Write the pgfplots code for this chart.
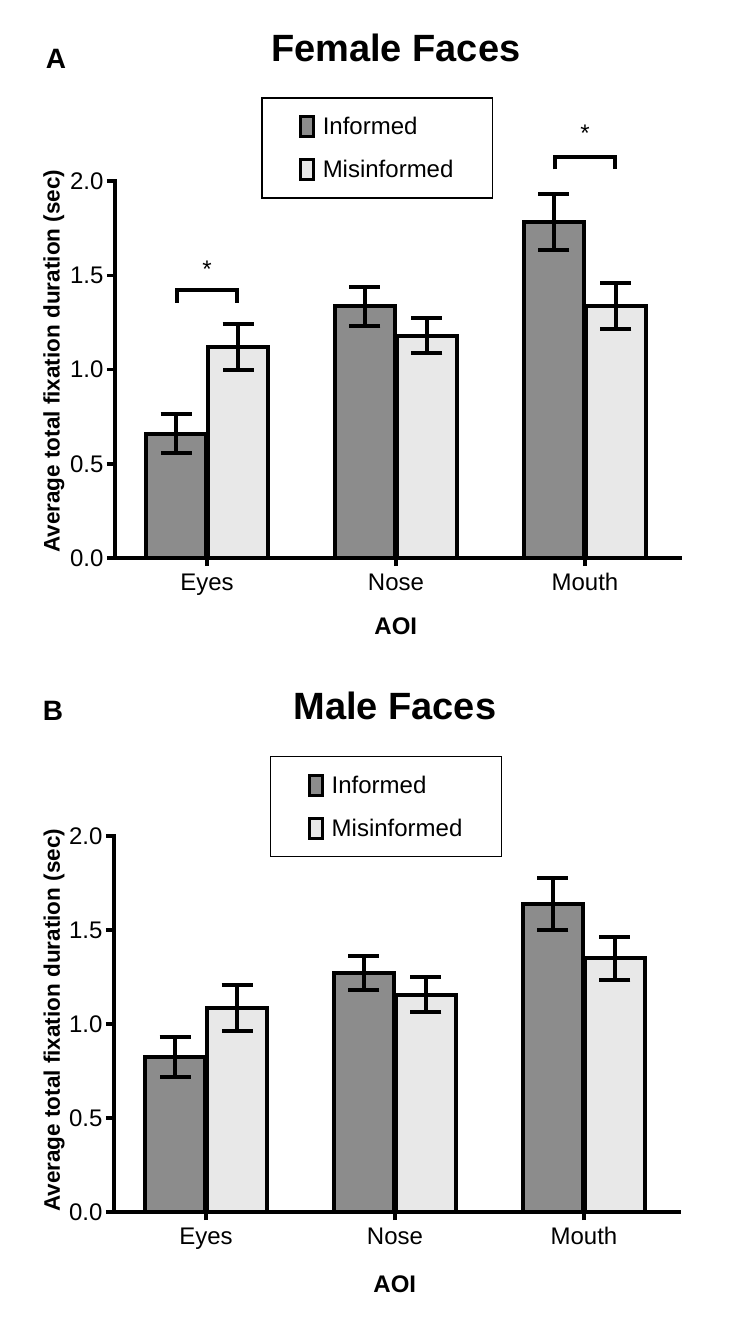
\documentclass[border=0pt]{standalone}
\usepackage{pgfplots}
\pgfplotsset{compat=1.18}
\usepackage{fontspec}
\setmainfont{Liberation Sans}
\definecolor{infcol}{gray}{0.55}
\definecolor{miscol}{gray}{0.91}
\pgfplotsset{
  prism/.style={
    scale only axis, width=565pt,
    ybar, bar width=60pt,
    xmin=-0.487, xmax=2.503, ymin=0, ymax=2,
    enlargelimits=false, clip=false,
    axis x line*=bottom, axis y line*=left,
    axis line style={line width=3.5pt, -, line cap=rect},
    tick style={line width=3.5pt, black},
    major tick length=8pt, tick align=outside,
    xtick={0,1,2}, xticklabels={Eyes,Nose,Mouth},
    ytick={0,0.5,1,1.5,2},
    /pgf/number format/assume math mode=true,
    y tick label style={/pgf/number format/fixed, /pgf/number format/fixed zerofill, /pgf/number format/precision=1},
    x tick label style={yshift=-4pt},
    tick label style={font=\fontsize{24}{28}\selectfont},
    every axis plot post/.append style={legend image code/.code={\draw[#1, line width=3pt, draw=black] (0pt,-10pt) rectangle (13pt,10pt);}},
    legend cell align=left,
    legend style={anchor=north west, draw=black, line width=1.5pt, fill=white,
      font=\fontsize{24}{28}\selectfont, inner xsep=37pt, inner ysep=17pt, row sep=20pt,
      /tikz/every odd column/.append style={column sep=6pt},
      nodes={inner xsep=2pt, inner ysep=0pt}},
    title style={anchor=base, font=\bfseries\fontsize{38}{44}\selectfont},
    xlabel style={anchor=center, font=\bfseries\fontsize{24}{28}\selectfont},
    ylabel style={anchor=center, font=\bfseries\fontsize{22.5}{26}\selectfont},
    xlabel={AOI},
    ylabel={Average total fixation duration (sec)},
  },
  ebar/.style={error bars/.cd, y dir=both, y explicit,
    error bar style={line width=4pt, black},
    error mark options={rotate=90, mark size=15.5pt, line width=4pt, black}},
  infbar/.style={fill=infcol, draw=black, line width=4pt, ebar},
  misbar/.style={fill=miscol, draw=black, line width=4pt, ebar},
}
\begin{document}
\begin{tikzpicture}
\useasboundingbox (0,0) rectangle (746pt,-1320pt);
% Panel A
\node[font=\bfseries\fontsize{28}{32}\selectfont] at (56pt,-58.5pt) {A};
\begin{axis}[prism, at={(115pt,-558pt)}, anchor=south west, height=377pt,
  title={Female Faces}, title style={at={(0.497,1.302)}},
  legend style={at={(0.2584,1.2228)}},
  xlabel style={at={(0.497,-0.18)}},
  ylabel style={at={(-0.108,0.522)}}]
\addplot[infbar] coordinates {(0,0.66) +- (0,0.105) (1,1.335) +- (0,0.104) (2,1.782) +- (0,0.148)};
\addplot[misbar] coordinates {(0,1.12) +- (0,0.12) (1,1.18) +- (0,0.095) (2,1.338) +- (0,0.122)};
\legend{Informed,Misinformed}
\draw[line width=4pt] (axis cs:-0.159,1.354) -- (axis cs:-0.159,1.42) -- (axis cs:0.159,1.42) -- (axis cs:0.159,1.354);
\node[anchor=base, inner sep=0pt, font=\fontsize{24}{28}\selectfont] at (axis cs:0,1.49) {*};
\draw[line width=4pt] (axis cs:1.841,2.062) -- (axis cs:1.841,2.125) -- (axis cs:2.159,2.125) -- (axis cs:2.159,2.062);
\node[anchor=base, inner sep=0pt, font=\fontsize{24}{28}\selectfont] at (axis cs:2,2.207) {*};
\end{axis}
% Panel B
\node[font=\bfseries\fontsize{28}{32}\selectfont] at (53pt,-711pt) {B};
\begin{axis}[prism, at={(114pt,-1212pt)}, anchor=south west, height=376pt,
  title={Male Faces}, title style={at={(0.497,1.293)}},
  legend style={at={(0.276,1.213)}},
  xlabel style={at={(0.497,-0.191)}},
  ylabel style={at={(-0.106,0.51)}}]
\addplot[infbar] coordinates {(0,0.825) +- (0,0.107) (1,1.27) +- (0,0.09) (2,1.637) +- (0,0.138)};
\addplot[misbar] coordinates {(0,1.085) +- (0,0.12) (1,1.155) +- (0,0.093) (2,1.35) +- (0,0.114)};
\legend{Informed,Misinformed}
\end{axis}
\end{tikzpicture}
\end{document}
